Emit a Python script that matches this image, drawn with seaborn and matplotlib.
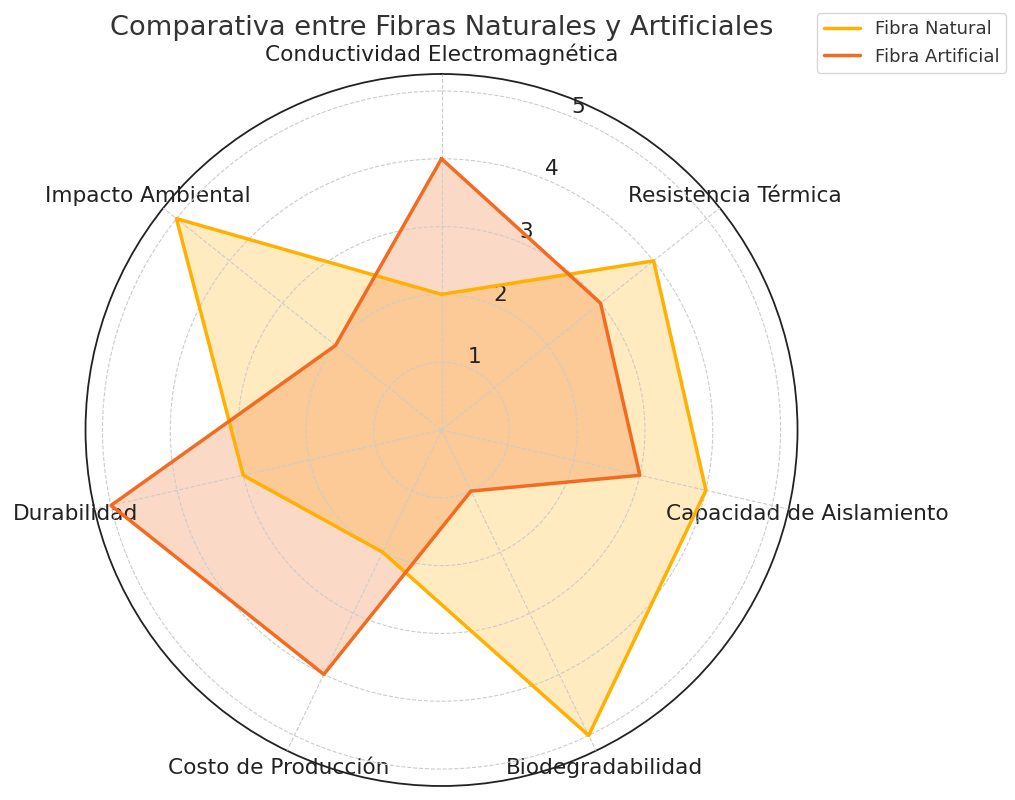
import numpy as np
import seaborn as sns
import matplotlib
matplotlib.use("Agg")
import matplotlib.pyplot as plt

# Categories and scores
categories = ['Conductividad Electromagnética', 'Resistencia Térmica', 'Capacidad de Aislamiento',
              'Biodegradabilidad', 'Costo de Producción', 'Durabilidad', 'Impacto Ambiental']
natural = [2, 4, 4, 5, 2, 3, 5]
artificial = [4, 3, 3, 1, 4, 5, 2]
series_names = ['Fibra Natural', 'Fibra Artificial']
series_colors = ['#FFB000', '#F26B21']
radial_ticks = [1, 2, 3, 4, 5]

sns.set_style("whitegrid", {'grid.linestyle': '--', 'grid.color': '#cccccc'})
plt.rcParams['font.family'] = ['DejaVu Sans']

angles = np.linspace(0, 2 * np.pi, len(categories), endpoint=False).tolist()
angles_closed = angles + angles[:1]

fig = plt.figure(figsize=(10.15, 8), dpi=100)
ax = fig.add_axes([0.084, 0.0175, 0.702, 0.89], polar=True)
ax.set_theta_offset(np.pi / 2)
ax.set_theta_direction(-1)
ax.set_axisbelow(False)

for name, values, color in zip(series_names, [natural, artificial], series_colors):
    vals = values + values[:1]
    ax.plot(angles_closed, vals, color=color, linewidth=2.5, label=name, zorder=3)
    ax.fill(angles_closed, vals, color=color, alpha=0.25, zorder=1)

ax.set_xticks(angles)
ax.set_xticklabels(categories, fontsize=15.6, color='#222222')
ax.set_yticks(radial_ticks)
ax.set_yticklabels([str(t) for t in radial_ticks], fontsize=15.6, color='#222222')
ax.set_ylim(0, 5.25)
ax.grid(True, linestyle='--', color='#cccccc', linewidth=0.8)
ax.spines['polar'].set_color('#222222')
ax.spines['polar'].set_linewidth(1.3)

ax.set_title('Comparativa entre Fibras Naturales y Artificiales', fontsize=19.6, color='#333333', pad=6)
leg = ax.legend(loc='upper right', bbox_to_anchor=(1.306, 1.098), fontsize=13)
for t in leg.get_texts():
    t.set_color('#333333')

plt.savefig('out.png', dpi=100)
